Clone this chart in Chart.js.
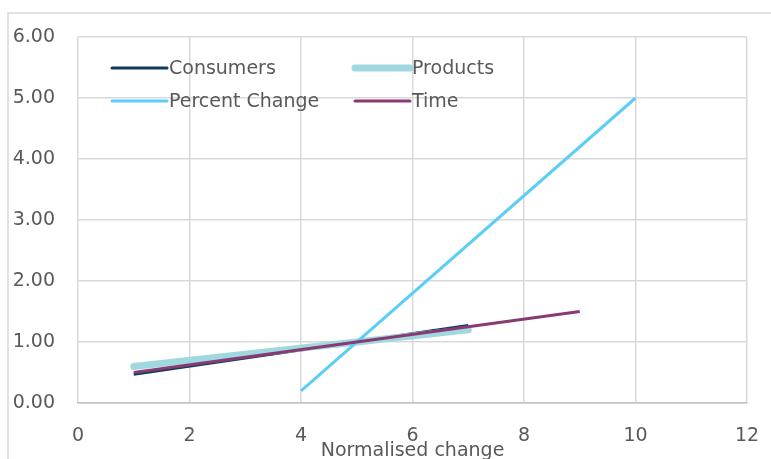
<!DOCTYPE html>
<html>
<head>
<meta charset="utf-8">
<script src="https://cdn.jsdelivr.net/npm/chart.js@4"></script>
<style>
  html, body { margin: 0; padding: 0; background: #fff; }
  #wrap { width: 771px; height: 459px; position: relative; }
</style>
</head>
<body>
<div id="wrap"><canvas id="chart" width="771" height="459"></canvas></div>
<script>
// series
const consumersX = [1, 7];
const consumersY = [0.47, 1.27];
const productsX = [1, 7];
const productsY = [0.6, 1.2];
const percentX = [4, 10];
const percentY = [0.2, 5.0];
const timeX = [1, 9];
const timeY = [0.5, 1.5];

const seriesNames = ['Consumers', 'Products', 'Percent Change', 'Time'];
const seriesColors = ['#0d3b5e', '#9fd8df', '#5ccdf7', '#8a3a72'];
const seriesWidths = [3, 7, 3, 3];

const FONT = '"DejaVu Sans", sans-serif';
const TEXT = '#595959';

function pts(xs, ys) {
  return xs.map((x, i) => ({ x: x, y: ys[i] }));
}

const allX = [consumersX, productsX, percentX, timeX];
const allY = [consumersY, productsY, percentY, timeY];

const datasets = seriesNames.map((name, i) => ({
  label: name,
  data: pts(allX[i], allY[i]),
  borderColor: seriesColors[i],
  backgroundColor: seriesColors[i],
  borderWidth: seriesWidths[i],
  borderCapStyle: i === 1 ? 'round' : 'butt',
  pointRadius: 0,
  showLine: true,
  fill: false,
  order: 4 - i
}));

// frame and legend drawn on the canvas
const framePlugin = {
  id: 'frame',
  beforeDraw(chart) {
    const ctx = chart.ctx;
    ctx.save();
    ctx.strokeStyle = '#d9d9d9';
    ctx.lineWidth = 1.5;
    ctx.beginPath();
    ctx.moveTo(8, 459);
    ctx.lineTo(8, 13);
    ctx.lineTo(771, 13);
    ctx.stroke();
    ctx.restore();
  },
  afterDraw(chart) {
    const ctx = chart.ctx;
    const spots = [[112, 68], [355, 68], [112, 101], [355, 101]];
    ctx.save();
    ctx.font = '19px ' + FONT;
    ctx.textBaseline = 'middle';
    ctx.fillStyle = TEXT;
    spots.forEach((s, i) => {
      ctx.strokeStyle = seriesColors[i];
      ctx.lineWidth = seriesWidths[i];
      ctx.lineCap = 'round';
      ctx.beginPath();
      ctx.moveTo(s[0], s[1]);
      ctx.lineTo(s[0] + 55, s[1]);
      ctx.stroke();
      ctx.fillText(seriesNames[i], s[0] + 57, s[1] + 1);
    });
    ctx.restore();
  }
};

new Chart(document.getElementById('chart'), {
  type: 'scatter',
  data: { datasets: datasets },
  plugins: [framePlugin],
  options: {
    responsive: false,
    animation: false,
    layout: { padding: { top: 37, right: 24, left: 0, bottom: 0 } },
    plugins: { legend: { display: false }, tooltip: { enabled: false } },
    scales: {
      x: {
        type: 'linear',
        min: 0,
        max: 12,
        ticks: { stepSize: 2, color: TEXT, font: { family: FONT, size: 19 }, padding: 22 },
        grid: { color: '#d9d9d9', lineWidth: 1.5, drawTicks: false },
        border: { color: '#bfbfbf', width: 1.5 },
        title: {
          display: true,
          text: 'Normalised change',
          color: TEXT,
          font: { family: FONT, size: 19 },
          padding: { top: 0, bottom: -3 }
        },
        afterFit(scale) {
          scale.height = 56;
          scale.paddingLeft = 0;
          scale.paddingRight = 0;
        }
      },
      y: {
        min: 0,
        max: 6,
        ticks: {
          stepSize: 1,
          color: TEXT,
          font: { family: FONT, size: 19 },
          padding: 23,
          callback: v => v.toFixed(2)
        },
        grid: { color: '#d9d9d9', lineWidth: 1.5, drawTicks: false },
        border: { display: false },
        afterFit(scale) {
          scale.width = 78;
          scale.paddingTop = 0;
          scale.paddingBottom = 0;
        }
      }
    }
  }
});
</script>
</body>
</html>
